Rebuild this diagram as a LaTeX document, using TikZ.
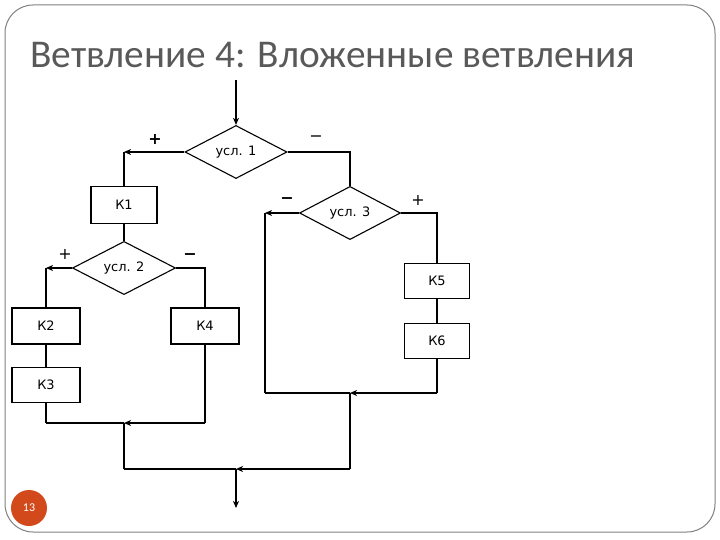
\documentclass[tikz,border=0pt]{standalone}
\usepackage{fontspec}
\setmainfont{Carlito}
\newfontfamily\chartfont{DejaVu Sans}
\usetikzlibrary{arrows.meta,positioning,calc,shapes.geometric}
\definecolor{ink}{HTML}{000000}
\definecolor{title}{HTML}{595959}
\definecolor{frame}{HTML}{808080}
\definecolor{badge}{HTML}{D24A1C}

\begin{document}
\begin{tikzpicture}[x=1bp,y=-1bp,>={Stealth[length=7bp,width=6bp,inset=2bp]},every node/.style={text=ink},
  blk/.style={draw=ink,line width=1.1bp,inner sep=0pt,font=\chartfont\fontsize{13}{15}\selectfont},
  cond/.style={diamond,draw=ink,line width=1.1bp,inner sep=0pt,font=\chartfont\fontsize{13}{15}\selectfont},
  ln/.style={ink,line width=1.1bp},
  thk/.style={ink,line width=2.2bp},
  sgn/.style={font=\chartfont\fontsize{16}{16}\selectfont}]
\path[use as bounding box] (0,0) rectangle (720,540);

\draw[frame,line width=1bp,rounded corners=28bp] (5,5) rectangle (715,532);
\node[anchor=base west,text=title,font=\fontsize{39.5}{42}\selectfont,inner sep=0pt] (ttl) at (30,68) {Ветвление 4: Вложенные ветвления};

% decisions
\node[cond,minimum width=102bp,minimum height=48bp] (d1) at (236,152) {усл. 1};
\node[cond,minimum width=103bp,minimum height=47bp] (d2) at (124,268) {усл. 2};
\node[cond,minimum width=101bp,minimum height=46bp] (d3) at (350,213) {усл. 3};
% blocks
\node[blk,minimum width=66bp,minimum height=37bp] (k1) at (124,205) {К1};
\node[blk,minimum width=68bp,minimum height=36bp] (k2) at (46,326) {К2};
\node[blk,minimum width=68bp,minimum height=35bp] (k3) at (46,385) {К3};
\node[blk,minimum width=68bp,minimum height=36bp] (k4) at (205,326) {К4};
\node[blk,minimum width=65bp,minimum height=35bp] (k5) at (437,281) {К5};
\node[blk,minimum width=65bp,minimum height=35bp] (k6) at (437,341) {К6};

\coordinate (in) at (236,80);
\coordinate (out) at (236,508);
\coordinate (j1) at (124,423);
\coordinate (j2) at (350,393);
\coordinate (j3) at (236,469);
\coordinate (m3) at (265,393);

% upper part
\draw[ln,->] (in) -- (d1.north);
\draw[ln,->] (d1.west) -- (k1 |- d1.west);
\draw[thk] (k1 |- d1.west) -- (k1.north);
\draw[ln] (d1.east) -| (d3.north);
\draw[thk] (k1.south) -- (d2.north);

% left branch
\draw[ln,->] (d2.west) -- (k2 |- d2.west);
\draw[ln] (k2 |- d2.west) -- (k2.north);
\draw[ln] (d2.east) -| (k4.north);
\draw[ln] (k2.south) -- (k3.north);
\draw[ln] (k3.south) -- (k3 |- j1);
\draw[thk] (k3 |- j1) -- (j1);
\draw[ln] (k4.south) -- (k4 |- j1);
\draw[thk,->] (k4 |- j1) -- (j1);
\draw[thk] (j1) -- (j1 |- j3);
\draw[ln] (j1 |- j3) -- (j3);

% right branch
\draw[ln,->] (d3.west) -- (d3.west -| m3);
\draw[thk] (d3.west -| m3) -- (m3);
\draw[ln] (m3) -- (j2);
\draw[ln] (d3.east) -| (k5.north);
\draw[thk] (k5.south) -- (k6.north);
\draw[thk] (k6.south) -- (k6 |- j2);
\draw[ln,->] (k6 |- j2) -- (j2);
\draw[thk] (j2) -- (j2 |- j3);
\draw[thk,->] (j2 |- j3) -- (j3);
\draw[ln,->] (j3) -- (out);

% signs
\node[sgn] (s1) at (155,140) {\textbf{+}};
\node[sgn] (s2) at (316,139) {−};
\node[sgn] (s3) at (65,255) {+};
\node[sgn] (s4) at (190,257) {\textbf{−}};
\node[sgn] (s5) at (287,201) {\textbf{−}};
\node[sgn] (s6) at (418,201) {+};

\fill[badge] (29,508) circle (18bp);
\node[text=white,font=\fontsize{12}{13}\selectfont] (pg) at (29,508) {13};
\end{tikzpicture}
\end{document}
